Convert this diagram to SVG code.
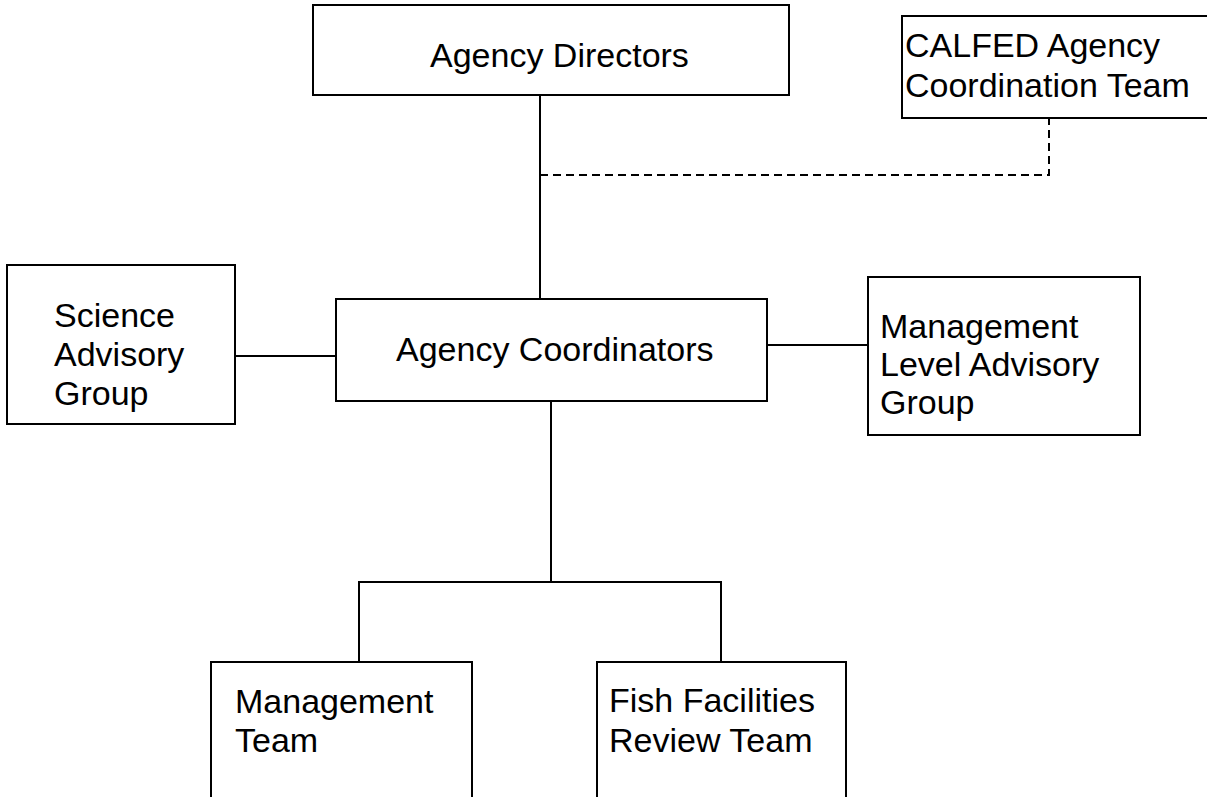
<svg xmlns="http://www.w3.org/2000/svg" width="1207" height="797" viewBox="0 0 1207 797">
<style>
.box{fill:#fff;stroke:#000;stroke-width:2}
.ln{fill:none;stroke:#000;stroke-width:2}
.dash{fill:none;stroke:#000;stroke-width:2;stroke-dasharray:8 5}
text{font-family:"Liberation Sans",Arial,sans-serif;font-size:34px;fill:#000}
</style>
<rect width="1207" height="797" fill="#fff"/>
<g id="connectors">
<line class="ln" x1="540" y1="95" x2="540" y2="299"/>
<polyline class="dash" points="540,175 1049,175 1049,118"/>
<line class="ln" x1="235" y1="356" x2="336" y2="356"/>
<line class="ln" x1="767" y1="345" x2="868" y2="345"/>
<line class="ln" x1="551" y1="401" x2="551" y2="582"/>
<polyline class="ln" points="359,662 359,582 721,582 721,662"/>
</g>
<g id="agency-directors">
<rect class="box" x="313" y="5" width="476" height="90"/>
<text x="430" y="67">Agency Directors</text>
</g>
<g id="calfed">
<rect class="box" x="902" y="16" width="320" height="102"/>
<text x="905" y="57">CALFED Agency</text>
<text x="905" y="97">Coordination Team</text>
</g>
<g id="science-advisory">
<rect class="box" x="7" y="265" width="228" height="159"/>
<text x="54" y="327">Science</text>
<text x="54" y="366">Advisory</text>
<text x="54" y="405">Group</text>
</g>
<g id="agency-coordinators">
<rect class="box" x="336" y="299" width="431" height="102"/>
<text x="396" y="361">Agency Coordinators</text>
</g>
<g id="management-advisory">
<rect class="box" x="868" y="277" width="272" height="158"/>
<text x="880" y="338">Management</text>
<text x="880" y="376">Level Advisory</text>
<text x="880" y="414">Group</text>
</g>
<g id="management-team">
<rect class="box" x="211" y="662" width="261" height="150"/>
<text x="235" y="713">Management</text>
<text x="235" y="752">Team</text>
</g>
<g id="fish-facilities">
<rect class="box" x="597" y="662" width="249" height="150"/>
<text x="609" y="712">Fish Facilities</text>
<text x="609" y="752">Review Team</text>
</g>
</svg>
